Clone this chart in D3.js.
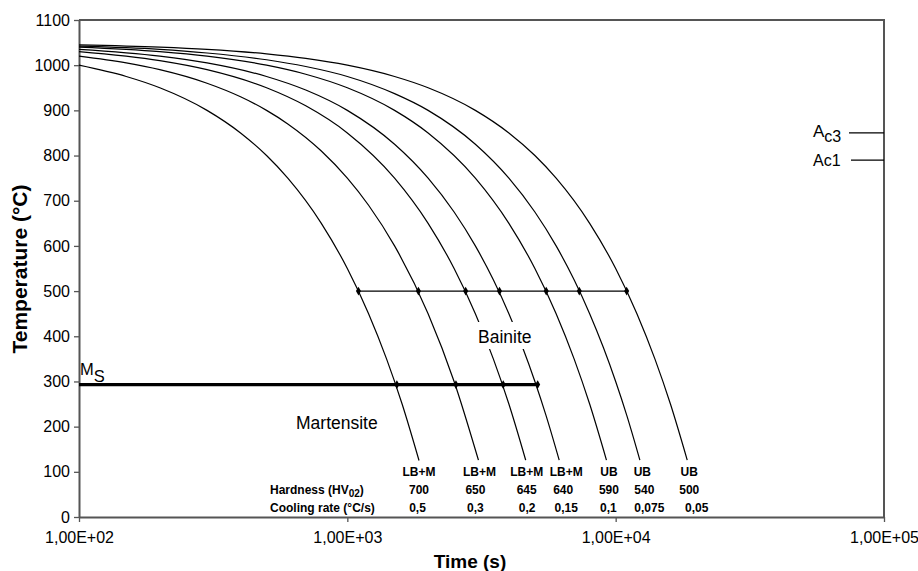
<!DOCTYPE html>
<html>
<head>
<meta charset="utf-8">
<script src="https://cdn.jsdelivr.net/npm/d3@7"></script>
<style>
  html, body { margin: 0; padding: 0; background: #fff; }
  svg { display: block; font-family: Arial, "Liberation Sans", sans-serif; }
</style>
</head>
<body>
<svg id="chart" width="918" height="571"></svg>
<script>
// ---- Data ----
// Cooling curves: [time (s), temperature (°C)]
const curve1 = [[100,1000],[150,975],[200,950],[300,900],[400,850],[500,800],[600,750],[800,650],[1000,550],[1200,450],[1400,350],[1600,250],[1850,125]];
const curve2 = [[100,1020],[150,1005],[200,990],[300,960],[400,930],[500,900],[600,870],[800,810],[1000,750],[1200,690],[1500,600],[2000,450],[2500,300],[3080,126]];
const curve3 = [[100,1030],[200,1010],[300,990],[500,950],[700,910],[1000,850],[1500,750],[2000,650],[2500,550],[3000,450],[3500,350],[4000,250],[4620,126]];
const curve4 = [[100,1035],[200,1020],[300,1005],[500,975],[700,945],[1000,900],[1500,825],[2000,750],[2500,675],[3000,600],[3500,525],[4000,450],[4500,375],[5000,300],[5500,225],[6160,126]];
const curve5 = [[100,1040],[200,1030],[300,1020],[500,1000],[700,980],[1000,950],[1500,900],[2000,850],[3000,750],[4000,650],[5000,550],[6000,450],[7000,350],[8000,250],[9240,126]];
const curve6 = [[100,1042],[200,1035],[300,1027],[500,1012],[700,997],[1000,975],[1500,937],[2000,900],[3000,825],[4000,750],[5000,675],[6000,600],[7000,525],[8000,450],[9000,375],[10000,300],[11000,225],[12310,126]];
const curve7 = [[100,1045],[200,1040],[300,1035],[500,1025],[700,1015],[1000,1000],[1500,975],[2000,950],[3000,900],[4000,850],[5000,800],[6000,750],[8000,650],[10000,550],[12000,450],[14000,350],[16000,250],[18480,126]];
const curves = [curve1, curve2, curve3, curve4, curve5, curve6, curve7];

const phases = ["LB+M","LB+M","LB+M","LB+M","UB","UB","UB"];
const hardness = ["700","650","645","640","590","540","500"];
const coolingRates = ["0,5","0,3","0,2","0,15","0,1","0,075","0,05"];

const bainiteStartTemp = 500;
const bainiteTimes = [1100, 1840, 2760, 3690, 5510, 7320, 10990];
const msTemp = 293;
const msStartTime = 100;
const msTimes = [1530, 2540, 3810, 5120];
const ac3Temp = 850;
const ac1Temp = 790;

const xTicks = [100, 1000, 10000, 100000];
const xTickLabels = ["1,00E+02","1,00E+03","1,00E+04","1,00E+05"];
const yTicks = [0,100,200,300,400,500,600,700,800,900,1000,1100];

// ---- Layout ----
const svg = d3.select("#chart");
const mLeft = 79, mRight = 884, mTop = 20, mBottom = 517;
const axisColor = "#555";

const x = d3.scaleLog().domain([100, 100000]).range([mLeft, mRight]);
const y = d3.scaleLinear().domain([0, 1100]).range([mBottom, mTop]);

// Frame (top and right)
svg.append("path")
  .attr("d", `M${mLeft},${mTop}H${mRight}V${mBottom}`)
  .attr("fill", "none").attr("stroke", axisColor).attr("stroke-width", 2);

// Y axis
const yAxis = svg.append("g").attr("transform", `translate(${mLeft},0)`)
  .call(d3.axisLeft(y).tickValues(yTicks).tickSize(5).tickSizeOuter(0).tickPadding(4).tickFormat(d => d));
yAxis.select(".domain").attr("stroke", axisColor).attr("stroke-width", 2);
yAxis.selectAll(".tick line").attr("stroke", axisColor).attr("stroke-width", 1.3);
yAxis.selectAll(".tick text").attr("font-size", 16).attr("fill", "#000").attr("font-family", "Arial, 'Liberation Sans', sans-serif");

// X axis
const xAxis = svg.append("g").attr("transform", `translate(0,${mBottom})`)
  .call(d3.axisBottom(x).tickValues(xTicks).tickSize(5).tickSizeOuter(0).tickPadding(10)
    .tickFormat((d, i) => xTickLabels[i]));
xAxis.select(".domain").attr("stroke", axisColor).attr("stroke-width", 2);
xAxis.selectAll(".tick line").attr("stroke", axisColor).attr("stroke-width", 1.3);
xAxis.selectAll(".tick text").attr("font-size", 16).attr("fill", "#000").attr("font-family", "Arial, 'Liberation Sans', sans-serif");

// Axis titles
svg.append("text").attr("x", 470).attr("y", 568).attr("text-anchor", "middle")
  .attr("font-size", 19).attr("font-weight", "bold").text("Time (s)");
svg.append("text").attr("transform", `translate(27,269) rotate(-90)`).attr("text-anchor", "middle")
  .attr("font-size", 21).attr("font-weight", "bold").text("Temperature (°C)");

// Cooling curves
const line = d3.line().x(d => x(d[0])).y(d => y(d[1])).curve(d3.curveMonotoneX);
svg.append("g").selectAll("path").data(curves).join("path")
  .attr("d", line).attr("fill", "none").attr("stroke", "#000").attr("stroke-width", 1.2);

// Bainite start line (500 °C)
svg.append("line")
  .attr("x1", x(d3.min(bainiteTimes))).attr("x2", x(d3.max(bainiteTimes)))
  .attr("y1", y(bainiteStartTemp)).attr("y2", y(bainiteStartTemp))
  .attr("stroke", "#000").attr("stroke-width", 1.2);

// Ms line
svg.append("line")
  .attr("x1", x(msStartTime)).attr("x2", x(d3.max(msTimes)))
  .attr("y1", y(msTemp)).attr("y2", y(msTemp))
  .attr("stroke", "#000").attr("stroke-width", 3.2);

// Markers (diamonds)
const diamond = d3.symbol().type(d3.symbolDiamond).size(22);
svg.append("g").selectAll("path").data(bainiteTimes).join("path")
  .attr("transform", d => `translate(${x(d)},${y(bainiteStartTemp)})`).attr("d", diamond).attr("fill", "#000");
svg.append("g").selectAll("path").data(msTimes).join("path")
  .attr("transform", d => `translate(${x(d)},${y(msTemp)})`).attr("d", diamond).attr("fill", "#000");

// Region labels
const bain = svg.append("g");
bain.append("rect").attr("x", 476).attr("y", 322).attr("width", 60).attr("height", 27).attr("fill", "#fff");
bain.append("text").attr("x", 478).attr("y", 343).attr("font-size", 17.5).text("Bainite");
svg.append("text").attr("x", 296).attr("y", 429).attr("font-size", 17.5).text("Martensite");

const ms = svg.append("text").attr("x", 80).attr("y", 375).attr("font-size", 16.5);
ms.append("tspan").text("M");
ms.append("tspan").attr("dy", 7).text("S");

// Ac3 / Ac1 markers on the right
svg.append("line").attr("x1", 849).attr("x2", mRight).attr("y1", y(ac3Temp)).attr("y2", y(ac3Temp))
  .attr("stroke", "#000").attr("stroke-width", 1.2);
svg.append("line").attr("x1", 851).attr("x2", mRight).attr("y1", y(ac1Temp)).attr("y2", y(ac1Temp))
  .attr("stroke", "#000").attr("stroke-width", 1.2);
const ac3 = svg.append("text").attr("x", 813).attr("y", y(ac3Temp) + 4).attr("font-size", 17);
ac3.append("tspan").text("A");
ac3.append("tspan").attr("dy", 5).attr("font-size", 16).text("c3");
svg.append("text").attr("x", 813).attr("y", y(ac1Temp) + 6).attr("font-size", 16).text("Ac1");

// Table under curves (columns sit under the curve ends, nudged as in the original)
const colX = curves.map(c => x(c[c.length - 1][0]));
const phaseNudge = [0, 1, 1, 7, 2.5, 2.5, 2];
const hardNudge = [0, -3, 1, 4, 2.5, 4.5, 2];
const rateNudge = [-1.5, -3, 1.5, 7, 2, 9.5, 9.5];
const table = svg.append("g").attr("font-size", 12).attr("font-weight", "bold").attr("text-anchor", "middle");
table.selectAll("text.phase").data(phases).join("text").attr("class", "phase")
  .attr("x", (d, i) => colX[i] + phaseNudge[i]).attr("y", 476).text(d => d);
table.selectAll("text.hard").data(hardness).join("text").attr("class", "hard")
  .attr("x", (d, i) => colX[i] + hardNudge[i]).attr("y", 494).text(d => d);
table.selectAll("text.rate").data(coolingRates).join("text").attr("class", "rate")
  .attr("x", (d, i) => colX[i] + rateNudge[i]).attr("y", 512).text(d => d);

const hardLabel = svg.append("text").attr("x", 270).attr("y", 494).attr("font-size", 12).attr("font-weight", "bold");
hardLabel.append("tspan").text("Hardness (HV");
hardLabel.append("tspan").attr("dy", 3).attr("font-size", 10).text("02");
hardLabel.append("tspan").attr("dy", -3).text(")");
svg.append("text").attr("x", 270).attr("y", 512).attr("font-size", 12).attr("font-weight", "bold")
  .text("Cooling rate (°C/s)");
</script>
</body>
</html>
